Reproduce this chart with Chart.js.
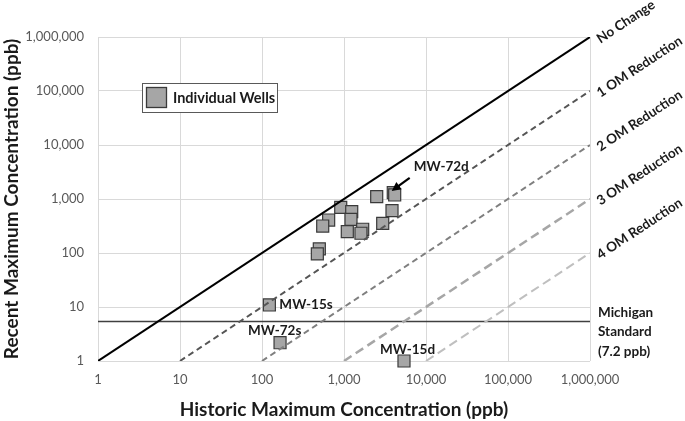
<!DOCTYPE html>
<html>
<head>
<meta charset="utf-8">
<script src="https://cdn.jsdelivr.net/npm/chart.js@4/dist/chart.umd.min.js"></script>
<style>
  html, body { margin: 0; padding: 0; background: #fff; }
  #wrap { width: 685px; height: 421px; }
</style>
</head>
<body>
<div id="wrap"><canvas id="chart-wells" width="685" height="421"></canvas></div>
<script>
// Data
var tickValues = [1, 10, 100, 1000, 10000, 100000, 1000000];
var historicMax = [2505, 3990, 4150, 3850, 2965, 912, 1242, 650, 550, 1217, 1097, 1690, 1610, 500, 473, 123, 166, 5390];
var recentMax   = [1103, 1309, 1187, 607, 355, 702, 582, 408, 316, 421, 248, 275, 232, 119, 96, 10.9, 2.18, 1.0];
var wellNames   = ['', '', 'MW-72d', '', '', '', '', '', '', '', '', '', '', '', '', 'MW-15s', 'MW-72s', 'MW-15d'];
var reductionLabels = ['No Change', '1 OM Reduction', '2 OM Reduction', '3 OM Reduction', '4 OM Reduction'];
var reductionStart = [1, 10, 100, 1000, 10000];
var reductionFactor = [1, 10, 100, 1000, 10000];
var michiganStd = 5.4;
var michiganLabel = ['Michigan', 'Standard', '(7.2 ppb)'];

var FONT = 'Lato, "Liberation Sans", sans-serif';

// Lines
var lineStyles = [
    { color: '#000000', width: 2, dash: [] },
    { color: '#555555', width: 2, dash: [6, 4] },
    { color: '#7f7f7f', width: 2, dash: [6, 4] },
    { color: '#a6a6a6', width: 2.5, dash: [9, 5] },
    { color: '#bfbfbf', width: 2, dash: [9, 5] }
];
var datasets = [];
reductionLabels.forEach(function (lbl, i) {
    var xs = reductionStart[i];
    datasets.push({
        label: lbl,
        data: [{ x: xs, y: xs / reductionFactor[i] }, { x: 1000000, y: 1000000 / reductionFactor[i] }],
        showLine: true,
        borderColor: lineStyles[i].color,
        borderWidth: lineStyles[i].width,
        borderDash: lineStyles[i].dash,
        pointRadius: 0,
        fill: false
    });
});
datasets.push({
    label: 'Michigan Standard',
    data: [{ x: 1, y: michiganStd }, { x: 1000000, y: michiganStd }],
    showLine: true,
    borderColor: '#404040',
    borderWidth: 1.5,
    pointRadius: 0
});
datasets.push({
    label: 'Individual Wells',
    data: historicMax.map(function (v, i) { return { x: v, y: recentMax[i] }; }),
    showLine: false,
    clip: false,
    pointStyle: 'rect',
    pointRadius: 8.5,
    backgroundColor: '#a6a6a6',
    borderColor: '#3a3a3a',
    borderWidth: 1.2
});

// annotations: rotated line labels, well names, arrow, legend, standard label
var annotatePlugin = {
    id: 'annotate',
    afterDatasetsDraw: function (chart) {
        var ctx = chart.ctx;
        var xs = chart.scales.x, ys = chart.scales.y;
        var area = chart.chartArea;
        var ang = Math.atan2(ys.getPixelForValue(1) - ys.getPixelForValue(10), xs.getPixelForValue(10) - xs.getPixelForValue(1));
        ctx.save();
        ctx.fillStyle = '#1a1a1a';
        ctx.font = 'bold 13.5px ' + FONT;
        ctx.textBaseline = 'middle';
        ctx.textAlign = 'left';
        reductionLabels.forEach(function (lbl, i) {
            var py = ys.getPixelForValue(1000000 / reductionFactor[i]);
            ctx.save();
            ctx.translate(area.right + 8, py + 3);
            ctx.rotate(-ang);
            ctx.fillText(lbl, 0, 0);
            ctx.restore();
        });

        // Michigan standard
        var my = ys.getPixelForValue(michiganStd);
        michiganLabel.forEach(function (t, i) {
            ctx.fillText(t, area.right + 8, my - 9 + i * 19.5);
        });

        // well names
        var offsets = {
            'MW-15s': [10, 0],
            'MW-72s': [-32, -12],
            'MW-15d': [-24, -11],
            'MW-72d': [19, -28]
        };
        wellNames.forEach(function (n, i) {
            if (!n) return;
            var px = xs.getPixelForValue(historicMax[i]);
            var py = ys.getPixelForValue(recentMax[i]);
            var o = offsets[n];
            ctx.fillText(n, px + o[0], py + o[1]);
            if (n === 'MW-72d') {
                // arrow
                var x0 = px + 15, y0 = py - 17, x1 = px - 3, y1 = py - 4;
                var a = Math.atan2(y1 - y0, x1 - x0);
                ctx.strokeStyle = '#000';
                ctx.lineWidth = 2.2;
                ctx.beginPath();
                ctx.moveTo(x0, y0);
                ctx.lineTo(x1 - 6 * Math.cos(a), y1 - 6 * Math.sin(a));
                ctx.stroke();
                ctx.beginPath();
                ctx.moveTo(x1, y1);
                ctx.lineTo(x1 - 9 * Math.cos(a) + 4.5 * Math.sin(a), y1 - 9 * Math.sin(a) - 4.5 * Math.cos(a));
                ctx.lineTo(x1 - 9 * Math.cos(a) - 4.5 * Math.sin(a), y1 - 9 * Math.sin(a) + 4.5 * Math.cos(a));
                ctx.closePath();
                ctx.fillStyle = '#000';
                ctx.fill();
                ctx.fillStyle = '#1a1a1a';
            }
        });

        // legend box
        var lx = area.left + 44, ly = area.top + 46, lw = 135, lh = 29;
        ctx.fillStyle = '#ffffff';
        ctx.fillRect(lx, ly, lw, lh);
        ctx.strokeStyle = '#595959';
        ctx.lineWidth = 1;
        ctx.strokeRect(lx + 0.5, ly + 0.5, lw, lh);
        ctx.fillStyle = '#a6a6a6';
        ctx.fillRect(lx + 4.5, ly + 4.5, 20, 20);
        ctx.strokeStyle = '#3a3a3a';
        ctx.lineWidth = 1.3;
        ctx.strokeRect(lx + 4.5, ly + 4.5, 20, 20);
        ctx.fillStyle = '#1a1a1a';
        ctx.font = 'bold 14.5px ' + FONT;
        ctx.fillText('Individual Wells', lx + 31, ly + lh / 2 + 1);
        ctx.restore();
    }
};

var tickFmt = function (v) { return Number(v).toLocaleString('en-US'); };

new Chart(document.getElementById('chart-wells').getContext('2d'), {
    type: 'scatter',
    data: { datasets: datasets },
    plugins: [annotatePlugin],
    options: {
        responsive: false,
        animation: false,
        layout: { padding: { left: 0, right: 95, top: 37, bottom: 0 } },
        plugins: { legend: { display: false }, tooltip: { enabled: false } },
        scales: {
            x: {
                type: 'logarithmic',
                min: 1, max: 1000000,
                afterBuildTicks: function (s) { s.ticks = tickValues.map(function (v) { return { value: v }; }); },
                afterFit: function (s) { s.height = 60; },
                grid: { color: '#d9d9d9', drawTicks: false },
                border: { display: false },
                ticks: { callback: tickFmt, padding: 11, color: '#595959', font: { family: FONT, size: 13 }, maxRotation: 0, autoSkip: false },
                title: { display: true, text: 'Historic Maximum Concentration (ppb)', color: '#1a1a1a', font: { family: FONT, size: 19, weight: 'bold' }, padding: { top: 0, bottom: 0 } }
            },
            y: {
                type: 'logarithmic',
                min: 1, max: 1000000,
                afterBuildTicks: function (s) { s.ticks = tickValues.map(function (v) { return { value: v }; }); },
                afterFit: function (s) { s.width = 98; },
                grid: { color: '#d9d9d9', drawTicks: false },
                border: { display: false },
                ticks: { callback: tickFmt, padding: 14, color: '#595959', font: { family: FONT, size: 13 }, autoSkip: false },
                title: { display: true, text: 'Recent Maximum Concentration (ppb)', color: '#1a1a1a', font: { family: FONT, size: 19, weight: 'bold' }, padding: { top: 0, bottom: 0 } }
            }
        }
    }
});
</script>
</body>
</html>
